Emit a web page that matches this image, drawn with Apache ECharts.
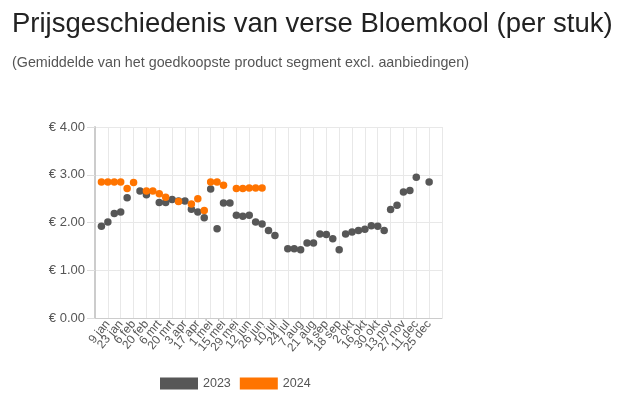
<!DOCTYPE html>
<html>
<head>
<meta charset="utf-8">
<script src="https://cdn.jsdelivr.net/npm/echarts@6/dist/echarts.min.js"></script>
<style>
html,body{margin:0;padding:0;background:#fff;}
#c{width:627px;height:395px;}
</style>
</head>
<body>
<div id="c"></div>
<script>
// Weekly categories (Mondays); labels shown every 2 weeks from "9 jan" to "25 dec"
const weeks = ["26 dec","2 jan","9 jan","16 jan","23 jan","30 jan","6 feb","13 feb","20 feb","27 feb",
  "6 mrt","13 mrt","20 mrt","27 mrt","3 apr","10 apr","17 apr","24 apr","1 mei","8 mei",
  "15 mei","22 mei","29 mei","5 jun","12 jun","19 jun","26 jun","3 jul","10 jul","17 jul",
  "24 jul","31 jul","7 aug","14 aug","21 aug","28 aug","4 sep","11 sep","18 sep","25 sep",
  "2 okt","9 okt","16 okt","23 okt","30 okt","6 nov","13 nov","20 nov","27 nov","4 dec",
  "11 dec","18 dec","25 dec","1 jan","8 jan"];
const labelWeeks = ["9 jan","23 jan","6 feb","20 feb","6 mrt","20 mrt","3 apr","17 apr","1 mei","15 mei",
  "29 mei","12 jun","26 jun","10 jul","24 jul","7 aug","21 aug","4 sep","18 sep","2 okt",
  "16 okt","30 okt","13 nov","27 nov","11 dec","25 dec"];
const price2023 = [null,1.92,2.01,2.19,2.22,2.52,null,2.66,2.58,null,
  2.42,2.42,2.48,2.45,2.45,2.28,2.22,2.10,2.70,1.87,
  2.41,2.41,2.15,2.13,2.15,2.01,1.97,1.83,1.73,null,
  1.45,1.45,1.43,1.57,1.57,1.76,1.75,1.66,1.43,1.76,
  1.80,1.83,1.86,1.93,1.92,1.83,2.27,2.36,2.64,2.67,
  2.95,null,2.85,null,null];
const price2024 = [null,2.85,2.85,2.85,2.85,2.71,2.84,null,2.66,2.66,
  2.60,2.53,null,2.44,null,2.39,2.50,2.25,2.85,2.85,
  2.78,null,2.71,2.71,2.72,2.72,2.72];
const yTicks = [0,1,2,3,4];

const FONT = 'Liberation Sans, Arial, sans-serif';
const toData = arr => weeks.map((w,i) => (arr[i] == null ? '-' : arr[i]));
const isLabel = (i) => labelWeeks.indexOf(weeks[i]) >= 0;

const chart = echarts.init(document.getElementById('c'), null, {renderer:'canvas'});
chart.setOption({
  animation:false,
  backgroundColor:'#fff',
  title:[{
    text:'Prijsgeschiedenis van verse Bloemkool (per stuk)',
    left:7, top:5, padding:[5,5,5,5],
    textStyle:{fontFamily:FONT,fontSize:27.5,fontWeight:'normal',color:'#222'}
  },{
    text:'(Gemiddelde van het goedkoopste product segment excl. aanbiedingen)',
    left:7, top:51,
    textStyle:{fontFamily:FONT,fontSize:14.3,fontWeight:'normal',color:'#555'}
  }],
  legend:{
    left:155, top:372,
    itemWidth:38, itemHeight:12, itemGap:9,
    icon:'rect',
    textStyle:{fontFamily:FONT,fontSize:12.5,color:'#555'},
    data:['2023','2024']
  },
  grid:{left:95,right:185,top:127,bottom:77},
  xAxis:{
    type:'category',
    data:weeks,
    boundaryGap:false,
    axisLine:{show:true,lineStyle:{color:'#ccc',width:1}},
    axisTick:{show:false},
    axisLabel:{
      interval:0,
      formatter:(v,i)=> isLabel(i) ? v : '',
      hideOverlap:false,
      showMinLabel:true,
      showMaxLabel:true,
      rotate:50,
      margin:4,
      fontFamily:FONT,
      fontSize:12,
      color:'#555'
    },
    splitLine:{show:true,interval:(i)=> i%2===0, lineStyle:{color:'#e8e8e8',width:1}}
  },
  yAxis:{
    type:'value',
    min:yTicks[0], max:yTicks[yTicks.length-1], interval:1,
    axisLine:{show:true,lineStyle:{color:'#ccc',width:2}},
    axisTick:{show:true,length:8,lineStyle:{color:'#ddd'}},
    axisLabel:{
      formatter:v=>'€ '+v.toFixed(2),
      margin:10,
      fontFamily:FONT,
      fontSize:13,
      color:'#555'
    },
    splitLine:{show:true,lineStyle:{color:'#e8e8e8'}}
  },
  series:[{
    name:'2023',
    type:'scatter',
    data:toData(price2023),
    symbolSize:7.5,
    itemStyle:{color:'#575757',opacity:1}
  },{
    name:'2024',
    type:'scatter',
    data:toData(price2024),
    symbolSize:7.5,
    itemStyle:{color:'#ff7400',opacity:1}
  }]
});
</script>
</body>
</html>
